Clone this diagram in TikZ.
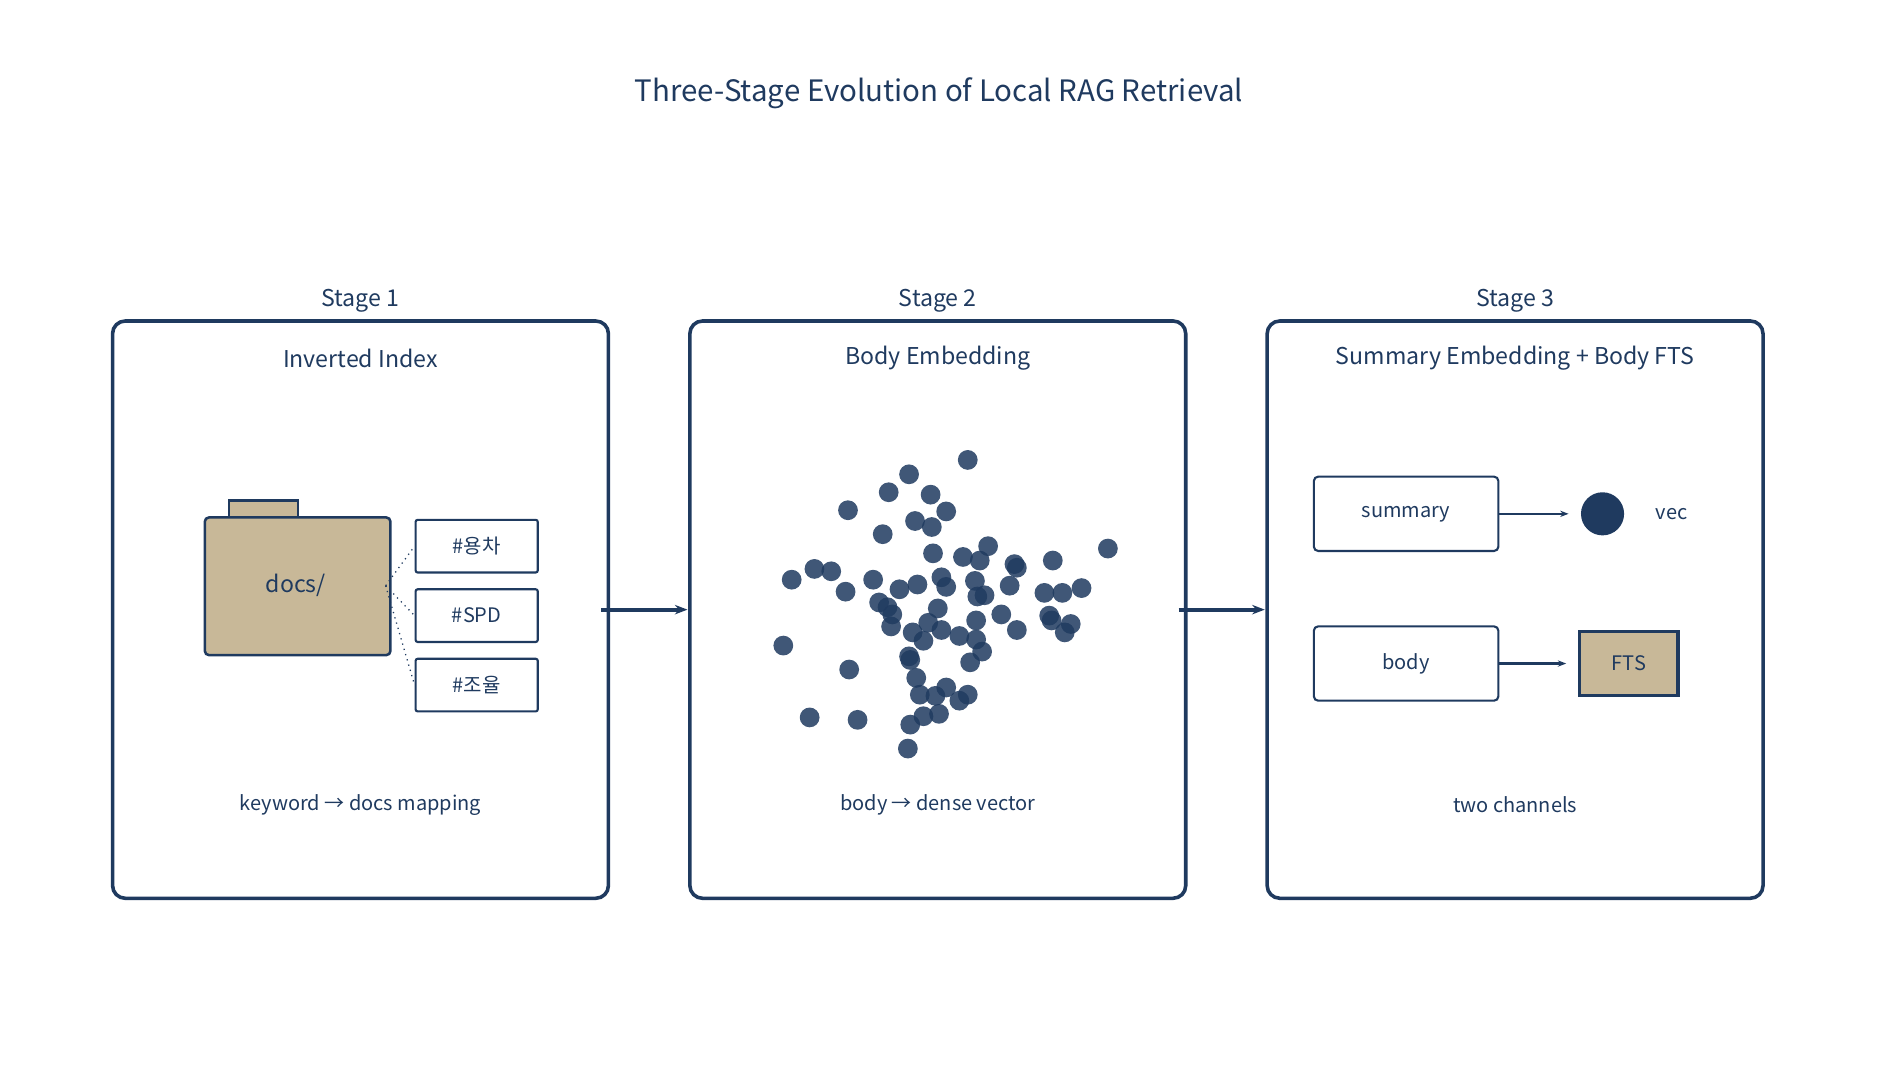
\documentclass[tikz,border=0pt]{standalone}
\usepackage{fontspec}
\setmainfont{Noto Sans CJK KR}
\usetikzlibrary{arrows.meta,positioning}
\definecolor{navy}{HTML}{1F3A5F}
\definecolor{tan}{HTML}{C8B898}
\begin{document}
\begin{tikzpicture}[x=0.2mm,y=-0.2mm,
		stagebox/.style={draw=navy,line width=1.7pt,rounded corners=6pt},
		tagbox/.style={draw=navy,line width=1pt,rounded corners=1pt,minimum width=20.4mm,minimum height=8.8mm,font=\fontsize{9.5}{11}\selectfont,text=navy},
		itembox/.style={draw=navy,line width=1pt,rounded corners=2pt,minimum width=30.8mm,minimum height=12.4mm,font=\fontsize{9.5}{11}\selectfont,text=navy},
		lbl/.style={text=navy,font=\fontsize{11}{13}\selectfont},
		captext/.style={text=navy,font=\fontsize{9.5}{11}\selectfont},
		flow/.style={-{Stealth[length=6pt]},line width=2pt,draw=navy},
		small/.style={-{Stealth[length=4pt]},line width=1pt,draw=navy,shorten >=2mm},
		dot/.style={circle,fill=navy,fill opacity=0.85,inner sep=0pt,minimum size=3.3mm}]
	\useasboundingbox (0,0) rectangle (1568,893);
	\node[text=navy,font=\fontsize{14}{16}\selectfont] (title) at (784,78) {Three-Stage Evolution of Local RAG Retrieval};
	
	% stages
	\foreach \i/\x/\sub/\cp in {1/301/Inverted Index/keyword \textrightarrow{} docs mapping,
			2/783/Body Embedding/body \textrightarrow{} dense vector,
			3/1265/Summary Embedding + Body FTS/two channels} {
		\draw[stagebox] (\x-207,268) rectangle (\x+207,750);
		\node[lbl] (S\i) at (\x,251) {Stage \i};
		\node[lbl] (H\i) at (\x,299) {\sub};
		\node[captext] (C\i) at (\x,672) {\cp};
		\coordinate (L\i) at (\x-209,509);
		\coordinate (R\i) at (\x+201,509);
	}
	\draw[flow] (R1) -- (L2);
	\draw[flow] (R2) -- (L3);
	
	% stage 1
	\draw[navy,line width=1.2pt,fill=tan] (191,418) rectangle (249,432);
	\draw[navy,line width=1.2pt,fill=tan,rounded corners=2pt] (171,432) rectangle (326,547);
	\node[text=navy,font=\fontsize{11}{13}\selectfont] (docs) at (247,489) {docs/};
	\coordinate (D) at (322,489);
	\node[tagbox] (T1) at (398,456) {\#용차};
	\node[tagbox] (T2) at (398,514) {\#SPD};
	\node[tagbox] (T3) at (398,572) {\#조율};
	\foreach \t in {T1,T2,T3}
		\draw[navy,dotted,line width=0.6pt] (D) -- (\t.west);
	
	% stage 2
	\foreach \px/\py [count=\k] in {808/384,759/396,742/411,777/413,708/426,790/427,764/435,778/440,737/446,825/456,925/458,779/462,804/465,818/468,847/471,849/474,879/468,661/484,680/475,694/477,729/484,786/482,814/485,706/494,751/492,766/488,790/490,843/489,822/497,816/498,872/495,887/495,903/491,734/503,741/507,783/508,745/513,836/513,876/514,878/518,894/521,889/528,815/518,744/523,775/520,762/528,786/526,849/526,801/531,771/535,815/534,820/544,654/539,759/548,760/551,709/559,810/553,765/566,790/574,768/580,781/581,808/580,801/585,676/599,716/601,771/598,784/596,760/605,758/625}
		\node[dot] (P\k) at (\px,\py) {};
	
	% stage 3
	\node[itembox] (sum) at (1174,429) {summary};
	\node[itembox] (body) at (1174,554) {body};
	\node[circle,fill=navy,inner sep=0pt,minimum size=7.2mm] (vec) at (1338,429) {};
	\node[captext,right=4mm of vec] (veclbl) {vec};
	\node[draw=navy,line width=1.5pt,fill=tan,minimum width=16.4mm,minimum height=10.6mm,font=\fontsize{9.5}{11}\selectfont,text=navy] (fts) at (1360,554) {FTS};
	\draw[small] (sum) -- (vec);
	\draw[small] (body) -- (fts);
\end{tikzpicture}
\end{document}
